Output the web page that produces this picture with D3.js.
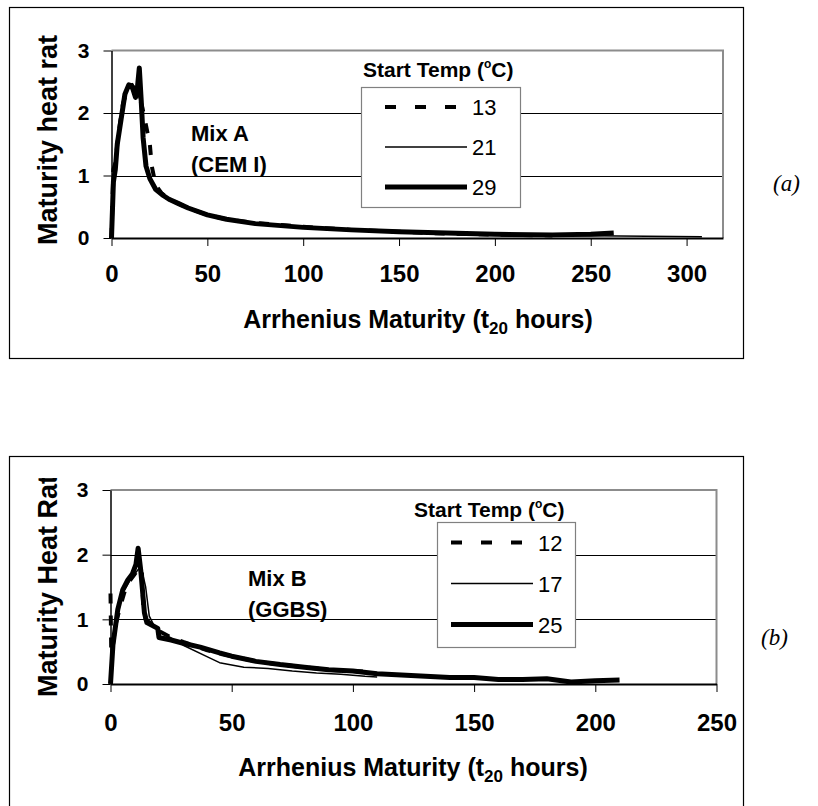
<!DOCTYPE html>
<html>
<head>
<meta charset="utf-8">
<script src="https://cdn.jsdelivr.net/npm/d3@7"></script>
<style>
  body { margin: 0; background: #fff; }
  svg { display: block; font-family: "Liberation Sans", Arial, sans-serif; }
</style>
</head>
<body>
<div class="chart"></div>
<script>
// tick values
var yTicks = [0, 1, 2, 3];
var xTicksA = [0, 50, 100, 150, 200, 250, 300];
var xTicksB = [0, 50, 100, 150, 200, 250];

// legend labels
var tempsA = ["13", "21", "29"];
var tempsB = ["12", "17", "25"];

// Mix A (CEM I) - [maturity t20 hours, heat rate]
var mixA13 = [[0,0],[0.5,0.6],[1,1.1],[2,1.2],[3,1.5],[4.5,1.85],[6,2.15],[8,2.35],[10,2.45],[12,2.4],[14,2.3],[16,2.1],[18,1.8],[20,1.5],[21,1.15],[23,0.85],[26,0.72],[30,0.62],[35,0.55],[40,0.48],[50,0.37],[60,0.3],[75,0.24],[100,0.18],[125,0.13],[150,0.1],[175,0.07],[200,0.055],[230,0.04]];
var mixA21 = [[0,0],[1,0.5],[2,1.2],[3,1.5],[5,1.95],[7,2.3],[9,2.45],[11,2.47],[13,2.35],[15,2.2],[16,1.8],[17,1.4],[19,1.05],[22,0.82],[26,0.68],[30,0.6],[40,0.47],[50,0.36],[60,0.29],[75,0.22],[100,0.16],[125,0.12],[150,0.09],[175,0.07],[200,0.05],[250,0.035],[308,0.02]];
var mixA29 = [[0,0],[1,0.9],[2,1.1],[3,1.5],[5,1.9],[7,2.3],[9,2.45],[11,2.4],[12.5,2.25],[13.5,2.4],[14.5,2.72],[15.5,2.2],[16.5,1.6],[18,1.15],[20,0.95],[23,0.78],[27,0.68],[30,0.62],[35,0.55],[40,0.48],[50,0.37],[60,0.3],[75,0.23],[100,0.17],[125,0.13],[150,0.1],[175,0.08],[200,0.06],[230,0.05],[250,0.06],[262,0.08]];

// Mix B (GGBS)
var mixB12 = [[0,1.4],[0.3,0.5],[1,0.6],[2,0.9],[4,1.2],[6,1.45],[8,1.6],[10,1.7],[12,1.8],[13,1.7],[13.5,1.2],[14.5,1.0],[17,0.92],[20,0.82],[25,0.72],[30,0.65],[40,0.52],[50,0.43],[60,0.35],[70,0.3],[80,0.26],[90,0.22],[100,0.2],[105,0.19]];
var mixB17 = [[0,0],[1,0.6],[3,1.1],[5,1.4],[8,1.6],[10,1.7],[12,1.8],[13,1.75],[14.5,1.5],[16,1.05],[18,0.9],[22,0.78],[30,0.6],[40,0.42],[45,0.33],[55,0.26],[65,0.24],[75,0.2],[85,0.17],[95,0.15],[105,0.12],[110,0.11]];
var mixB25 = [[0,0],[1,0.6],[3,1.15],[5,1.45],[7,1.6],[9,1.7],[10.5,1.85],[11.4,2.1],[12.5,1.75],[14,1.1],[15,0.95],[19.5,0.86],[20,0.72],[25,0.68],[30,0.63],[37,0.57],[45,0.48],[50,0.43],[60,0.35],[70,0.3],[80,0.26],[90,0.22],[100,0.2],[110,0.16],[120,0.14],[130,0.12],[140,0.1],[150,0.1],[160,0.07],[170,0.07],[180,0.08],[190,0.03],[200,0.05],[210,0.06]];

// line styles per series (dashed, thin, thick)
var styles = [
  { width: 4, dash: "10,12", legendDash: "11,19" },
  { width: 1.5, dash: null, legendDash: null },
  { width: 5, dash: null, legendDash: null }
];

var svg = d3.select(".chart").append("svg")
  .attr("width", 818)
  .attr("height", 806);

var panels = [
  {
    id: "a", series: [mixA13, mixA21, mixA29], temps: tempsA, xTicks: xTicksA,
    xMax: 319, box: [9, 7, 734, 351],
    xRange: [111.5, 723], yRange: [238, 50.5],
    yTitle: "Maturity heat rate", yTitleBottom: 245, clipTop: 35,
    mix: ["Mix A", "(CEM I)"], mixX: 191, mixY: 141,
    legend: { x: 361, y: 87, w: 159, h: 120, lineX: 385, lineW: 82, row: 40, titleX: 363, titleY: 77 },
    tickY: 282, titleX: 418, titleY: 328, tag: "(a)", tagX: 773, tagY: 191
  },
  {
    id: "b", series: [mixB12, mixB17, mixB25], temps: tempsB, xTicks: xTicksB,
    xMax: 250, box: [9, 456, 734, 360],
    xRange: [110.5, 716.5], yRange: [684, 490],
    yTitle: "Maturity Heat Rate", yTitleBottom: 697, clipTop: 478,
    mix: ["Mix B", "(GGBS)"], mixX: 248, mixY: 586,
    legend: { x: 437, y: 522, w: 138, h: 125, lineX: 451, lineW: 82, row: 41, titleX: 414, titleY: 517 },
    tickY: 731, titleX: 413, titleY: 776, tag: "(b)", tagX: 761, tagY: 645
  }
];

panels.forEach(function (p) {
  var g = svg.append("g");

  // outer chart box
  g.append("rect")
    .attr("x", p.box[0] + 0.5).attr("y", p.box[1] + 0.5)
    .attr("width", p.box[2]).attr("height", p.box[3])
    .attr("fill", "none").attr("stroke", "#000").attr("stroke-width", 1.2);

  var x = d3.scaleLinear().domain([0, p.xMax]).range(p.xRange);
  var y = d3.scaleLinear().domain([0, 3]).range(p.yRange);

  // gridlines
  g.selectAll(".grid")
    .data([1, 2])
    .enter().append("line")
    .attr("x1", x(0)).attr("x2", x(p.xMax))
    .attr("y1", d => Math.round(y(d)) + 0.5).attr("y2", d => Math.round(y(d)) + 0.5)
    .attr("stroke", "#000").attr("stroke-width", 1);

  // plot area border (top and right, grey)
  g.append("path")
    .attr("d", `M${x(0)},${y(3)}H${x(p.xMax)}V${y(0)}`)
    .attr("fill", "none").attr("stroke", "#8c8c8c").attr("stroke-width", 2);

  // series
  var line = d3.line()
    .x(d => x(d[0]))
    .y(d => y(d[1]));

  p.series.forEach(function (s, i) {
    g.append("path")
      .datum(s)
      .attr("d", line)
      .attr("fill", "none")
      .attr("stroke", "#000")
      .attr("stroke-width", styles[i].width)
      .attr("stroke-dasharray", styles[i].dash)
      .attr("stroke-linejoin", "round");
  });

  // y axis
  var yAxis = g.append("g")
    .attr("transform", `translate(${x(0)},0)`)
    .call(d3.axisLeft(y).tickValues(yTicks).tickSize(8).tickSizeOuter(0).tickPadding(14).tickFormat(d3.format("d")));
  yAxis.select(".domain").attr("stroke", "#000").attr("stroke-width", 1.5);
  yAxis.selectAll(".tick line").attr("stroke", "#000");
  yAxis.selectAll(".tick text")
    .attr("font-size", 21).attr("font-weight", "bold").attr("fill", "#000")
    .attr("font-family", "Liberation Sans, Arial, sans-serif");

  // x axis
  var xAxis = g.append("g")
    .attr("transform", `translate(0,${y(0)})`)
    .call(d3.axisBottom(x).tickValues(p.xTicks).tickSize(8).tickSizeOuter(0).tickFormat(d3.format("d")));
  xAxis.select(".domain").attr("stroke", "#000").attr("stroke-width", 2);
  xAxis.selectAll(".tick line").attr("stroke", "#000");
  xAxis.selectAll(".tick text")
    .attr("y", p.tickY - y(0)).attr("dy", 0)
    .attr("font-size", 24).attr("font-weight", "bold").attr("fill", "#000")
    .attr("font-family", "Liberation Sans, Arial, sans-serif");

  // x axis title
  var xt = g.append("text")
    .attr("x", p.titleX).attr("y", p.titleY)
    .attr("text-anchor", "middle")
    .attr("font-size", 25).attr("font-weight", "bold");
  xt.append("tspan").text("Arrhenius Maturity (t");
  xt.append("tspan").attr("font-size", 17).attr("dy", 6).text("20");
  xt.append("tspan").attr("dy", -6).text(" hours)");

  // y axis title, clipped at the top like the original
  g.append("clipPath").attr("id", "clip-" + p.id)
    .append("rect")
    .attr("x", p.box[0]).attr("y", p.clipTop)
    .attr("width", 80).attr("height", p.box[1] + p.box[3] - p.clipTop);
  g.append("g")
    .attr("clip-path", `url(#clip-${p.id})`)
    .append("text")
    .attr("transform", `translate(57,${p.yTitleBottom}) rotate(-90)`)
    .attr("font-size", 27).attr("font-weight", "bold")
    .text(p.yTitle);

  // mix annotation
  g.selectAll(".mix")
    .data(p.mix)
    .enter().append("text")
    .attr("x", p.mixX)
    .attr("y", (d, i) => p.mixY + i * 31)
    .attr("font-size", 22).attr("font-weight", "bold")
    .text(d => d);

  // legend
  var L = p.legend;
  var lt = g.append("text")
    .attr("x", L.titleX).attr("y", L.titleY)
    .attr("font-size", 21).attr("font-weight", "bold");
  lt.append("tspan").text("Start Temp (");
  lt.append("tspan").attr("font-size", 12).attr("dy", -9).text("o");
  lt.append("tspan").attr("dy", 9).text("C)");

  g.append("rect")
    .attr("x", L.x + 0.5).attr("y", L.y + 0.5)
    .attr("width", L.w).attr("height", L.h)
    .attr("fill", "#fff").attr("stroke", "#808080").attr("stroke-width", 1.2);

  var items = g.selectAll(".leg")
    .data(p.temps)
    .enter().append("g")
    .attr("transform", (d, i) => `translate(0,${L.y + L.row * (i + 0.5)})`);
  items.append("line")
    .attr("x1", L.lineX).attr("x2", L.lineX + L.lineW)
    .attr("stroke", "#000")
    .attr("stroke-width", (d, i) => styles[i].width)
    .attr("stroke-dasharray", (d, i) => styles[i].legendDash);
  items.append("text")
    .attr("x", L.lineX + L.lineW + 5)
    .attr("y", 8)
    .attr("font-size", 22)
    .text(d => d);

  // panel tag
  g.append("text")
    .attr("x", p.tagX).attr("y", p.tagY)
    .attr("font-family", "Liberation Serif, Times New Roman, serif")
    .attr("font-style", "italic")
    .attr("font-size", 23)
    .text(p.tag);
});
</script>
</body>
</html>
